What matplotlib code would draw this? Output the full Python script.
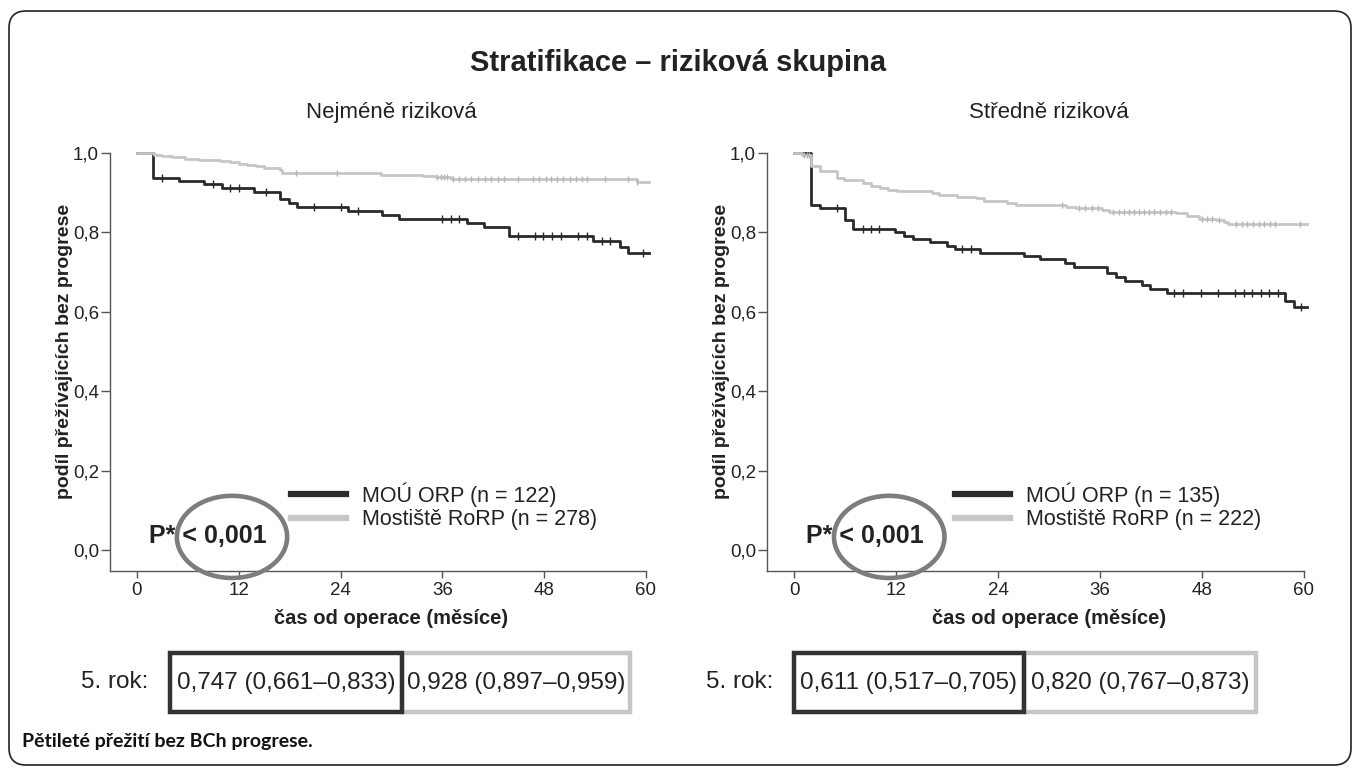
import numpy as np
import matplotlib
matplotlib.use("Agg")
import matplotlib.pyplot as plt
from matplotlib.patches import Ellipse, Rectangle, FancyBboxPatch
from matplotlib.lines import Line2D
from matplotlib.transforms import IdentityTransform

plt.rcParams['font.family'] = ['Liberation Sans', 'DejaVu Sans']

# ---------------- data ----------------
title = "Stratifikace – riziková skupina"
panel_titles = ["Nejméně riziková", "Středně riziková"]
y_label = "podíl přežívajících bez progrese"
x_label = "čas od operace (měsíce)"
x_ticks = [0, 12, 24, 36, 48, 60]
y_ticks = [0.0, 0.2, 0.4, 0.6, 0.8, 1.0]
y_tick_labels = ["0,0", "0,2", "0,4", "0,6", "0,8", "1,0"]
series_names = ["MOÚ ORP", "Mostiště RoRP"]
n_left = [122, 278]
n_right = [135, 222]
p_text = "P* < 0,001"
year5_label = "5. rok:"
year5_left = ["0,747 (0,661–0,833)", "0,928 (0,897–0,959)"]
year5_right = ["0,611 (0,517–0,705)", "0,820 (0,767–0,873)"]
caption = "Pětileté přežití bez BCh progrese."

# left panel (Nejméně riziková)
left_dark_t = [0, 1.85, 4.9, 7.9, 9.97, 13.8, 16.9, 17.9, 18.9, 24.9, 28.9, 30.9,
               38.9, 40.9, 43.9, 53.8, 56.9, 57.9, 60.4]
left_dark_s = [1.0, 0.938, 0.929, 0.922, 0.911, 0.903, 0.883, 0.873, 0.865, 0.855,
               0.845, 0.834, 0.823, 0.813, 0.790, 0.779, 0.764, 0.747, 0.747]
left_dark_cens = [2.9, 9.0, 11.0, 12.0, 15.2, 20.9, 24.0, 26.0, 36.0, 37.0, 38.0,
                  44.9, 46.9, 47.9, 48.9, 50.0, 52.0, 53.0, 54.8, 55.8, 59.7]
left_light_t = [0, 2.0, 3.0, 4.1, 5.7, 7.3, 9.8, 11.0, 12.0, 13.0, 14.0, 15.0, 16.9,
                17.1, 28.8, 33.7, 35.3, 37.0, 58.9, 60.4]
left_light_s = [1.0, 0.995, 0.992, 0.989, 0.986, 0.983, 0.980, 0.977, 0.973, 0.969,
                0.966, 0.962, 0.957, 0.949, 0.945, 0.942, 0.939, 0.935, 0.928, 0.928]
left_light_cens = [18.7, 23.6, 35.4, 35.8, 36.2, 36.6, 37.2, 38.0, 38.7, 39.4, 40.2,
                   41.0, 41.7, 42.5, 43.3, 44.9, 46.7, 47.4, 48.2, 48.8, 49.5, 50.2,
                   51.0, 51.7, 52.4, 53.0, 55.2, 57.9, 58.9]

# right panel (Středně riziková)
right_dark_t = [0, 2.0, 3.0, 5.97, 6.94, 11.9, 12.9, 13.95, 16.0, 18.0, 18.9, 21.85,
                27.0, 28.9, 31.9, 32.9, 36.8, 37.9, 38.9, 40.9, 41.9, 43.9, 57.8,
                58.8, 60.3]
right_dark_s = [1.0, 0.869, 0.861, 0.831, 0.809, 0.800, 0.792, 0.783, 0.775, 0.766,
                0.758, 0.749, 0.741, 0.732, 0.724, 0.714, 0.697, 0.687, 0.678, 0.667,
                0.657, 0.647, 0.628, 0.611, 0.611]
right_dark_cens = [5.0, 8.1, 9.0, 10.0, 19.8, 20.8, 44.7, 45.8, 47.9, 49.9, 51.9,
                   52.9, 53.9, 54.9, 55.9, 56.9, 59.7]
right_light_t = [0, 0.99, 2.0, 3.0, 5.04, 5.85, 8.16, 9.09, 10.1, 11.1, 12.1, 16.2,
                 17.0, 19.2, 21.4, 22.3, 25.1, 26.1, 32.0, 33.2, 36.2, 37.0, 44.9,
                 46.2, 47.6, 49.6, 50.6, 51.0, 60.3]
right_light_s = [1.0, 0.994, 0.966, 0.955, 0.936, 0.932, 0.924, 0.918, 0.913, 0.908,
                 0.904, 0.898, 0.894, 0.890, 0.886, 0.880, 0.873, 0.869, 0.865, 0.861,
                 0.856, 0.852, 0.848, 0.841, 0.835, 0.831, 0.827, 0.820, 0.820]
right_light_cens = [1.2, 1.5, 1.8, 31.5, 33.5, 34.2, 35.0, 35.8, 37.5, 38.2, 38.8,
                    39.4, 40.0, 40.6, 41.2, 41.8, 42.4, 43.0, 43.8, 44.4, 48.0, 48.6,
                    49.2, 50.0, 52.0, 52.7, 53.3, 54.0, 54.7, 55.3, 56.0, 56.6, 59.5]

# ---------------- style ----------------
W, H, DPI = 1354, 767, 100
DARK = "#2a2a2a"
LIGHT = "#c6c6c6"
ELL = "#7d7d7d"
TXT = "#222222"
SPINE = "#555555"

fig = plt.figure(figsize=(W / DPI, H / DPI), dpi=DPI)
fig.patch.set_facecolor("white")


def step_value(t, s, x):
    i = np.searchsorted(np.asarray(t), x, side="right") - 1
    return np.asarray(s)[i]


def make_panel(x_left, x_right, sub, dark_t, dark_s, dark_c, light_t, light_s,
               light_c, ns, leg_x):
    ytop, ybot = 153, 571
    ax = fig.add_axes([x_left / W, 1 - ybot / H, (x_right - x_left) / W,
                       (ybot - ytop) / H])
    ax.set_xlim(-3.18, 60)
    ax.set_ylim(-0.0529, 1.0)
    for sp in ("top", "right"):
        ax.spines[sp].set_visible(False)
    for sp in ("left", "bottom"):
        ax.spines[sp].set_color(SPINE)
        ax.spines[sp].set_linewidth(1.0)
    ax.set_xticks(x_ticks)
    ax.set_xticklabels([str(v) for v in x_ticks])
    ax.set_yticks(y_ticks)
    ax.set_yticklabels(y_tick_labels)
    ax.tick_params(axis="y", direction="out", length=6.5, width=1.0, color=SPINE,
                   labelsize=13.5, labelcolor=TXT, pad=1.5)
    ax.tick_params(axis="x", direction="out", length=5, width=1.0, color=SPINE,
                   labelsize=13.5, labelcolor=TXT, pad=3)

    ax.step(dark_t, dark_s, where="post", color=DARK, lw=2.0, clip_on=False,
            zorder=3)
    ax.plot(dark_c, step_value(dark_t, dark_s, dark_c), ls="none", marker="|",
            ms=5.5, mew=1.0, color=DARK, clip_on=False, zorder=3)
    ax.step(light_t, light_s, where="post", color=LIGHT, lw=2.0, clip_on=False,
            zorder=4)
    ax.plot(light_c, step_value(light_t, light_s, light_c), ls="none", marker="|",
            ms=5, mew=1.0, color="#b5b5b5", clip_on=False, zorder=4)

    # subtitle
    ax.annotate(sub, xy=(30, 1.0), xycoords=("data", "axes fraction"),
                xytext=(0, 29), textcoords="offset points", ha="center",
                va="center", fontsize=16, color=TXT)
    # x label
    ax.annotate(x_label, xy=(30, 0.0), xycoords=("data", "axes fraction"),
                xytext=(0, -34), textcoords="offset points", ha="center",
                va="center", fontsize=14.5, fontweight="bold", color=TXT)
    # y label
    ax.annotate(y_label, xy=(0.0, 0.5), xycoords=("axes fraction", "data"),
                xytext=(-33, 0), textcoords="offset points", ha="center",
                va="center", rotation=90, fontsize=14, fontweight="bold", color=TXT)

    # legend
    handles = [Line2D([], [], color=DARK, lw=4.5),
               Line2D([], [], color=LIGHT, lw=4.5)]
    labels = [f"{series_names[0]} (n = {ns[0]})", f"{series_names[1]} (n = {ns[1]})"]
    leg = ax.legend(handles, labels, loc="upper left", bbox_to_anchor=(leg_x, 0.212),
                    frameon=False, fontsize=15.5, handlelength=2.55,
                    handletextpad=0.75, labelspacing=0.12, borderpad=0,
                    borderaxespad=0)
    for t in leg.get_texts():
        t.set_color(TXT)

    # p-value and ellipse
    ax.text(1.4, 0.036, p_text, fontsize=18, fontweight="bold", color=TXT,
            ha="left", va="center", zorder=5)
    ax.add_patch(Ellipse((11.2, 0.033), 13.0, 0.207, fill=False, ec=ELL, lw=3.3,
                         clip_on=False, zorder=6))
    return ax


axL = make_panel(110, 646, panel_titles[0], left_dark_t, left_dark_s, left_dark_cens,
                 left_light_t, left_light_s, left_light_cens, n_left, 0.338)
axR = make_panel(767, 1304, panel_titles[1], right_dark_t, right_dark_s,
                 right_dark_cens, right_light_t, right_light_s, right_light_cens,
                 n_right, 0.350)

# main title
fig.text(678 / W, 1 - 63 / H, title, ha="center", va="center", fontsize=21,
         fontweight="bold", color=TXT)

# 5-year boxes
box_top, box_bot = 653, 712


def year_boxes(label_x, x0, xm, x1, texts):
    yc = (box_top + box_bot) / 2
    fig.text(label_x / W, 1 - yc / H, year5_label, ha="right", va="center",
             fontsize=17.5, color=TXT)
    fig.add_artist(Rectangle((xm / W, 1 - box_bot / H), (x1 - xm) / W,
                             (box_bot - box_top) / H, fill=False, ec=LIGHT,
                             lw=3.2, transform=fig.transFigure))
    fig.add_artist(Rectangle((x0 / W, 1 - box_bot / H), (xm - x0) / W,
                             (box_bot - box_top) / H, fill=False, ec="#333333",
                             lw=3.2, transform=fig.transFigure))
    fig.text((x0 + xm) / 2 / W, 1 - yc / H, texts[0], ha="center", va="center",
             fontsize=17.5, color=TXT)
    fig.text((xm + x1) / 2 / W, 1 - yc / H, texts[1], ha="center", va="center",
             fontsize=17.5, color=TXT)


year_boxes(148, 170, 402, 630, year5_left)
year_boxes(773, 794, 1024, 1256, year5_right)

# caption
fig.text(22 / W, 1 - 741 / H, caption, ha="left", va="center", fontsize=14,
         fontweight="bold", family=["Lato", "DejaVu Sans"], color="#111111")

# rounded frame
fig.add_artist(FancyBboxPatch((9, 2), 1342, 754,
                              boxstyle="round,pad=0,rounding_size=17",
                              fill=False, ec="#222222", lw=1.2,
                              transform=IdentityTransform()))

fig.savefig("out.png", dpi=DPI)
